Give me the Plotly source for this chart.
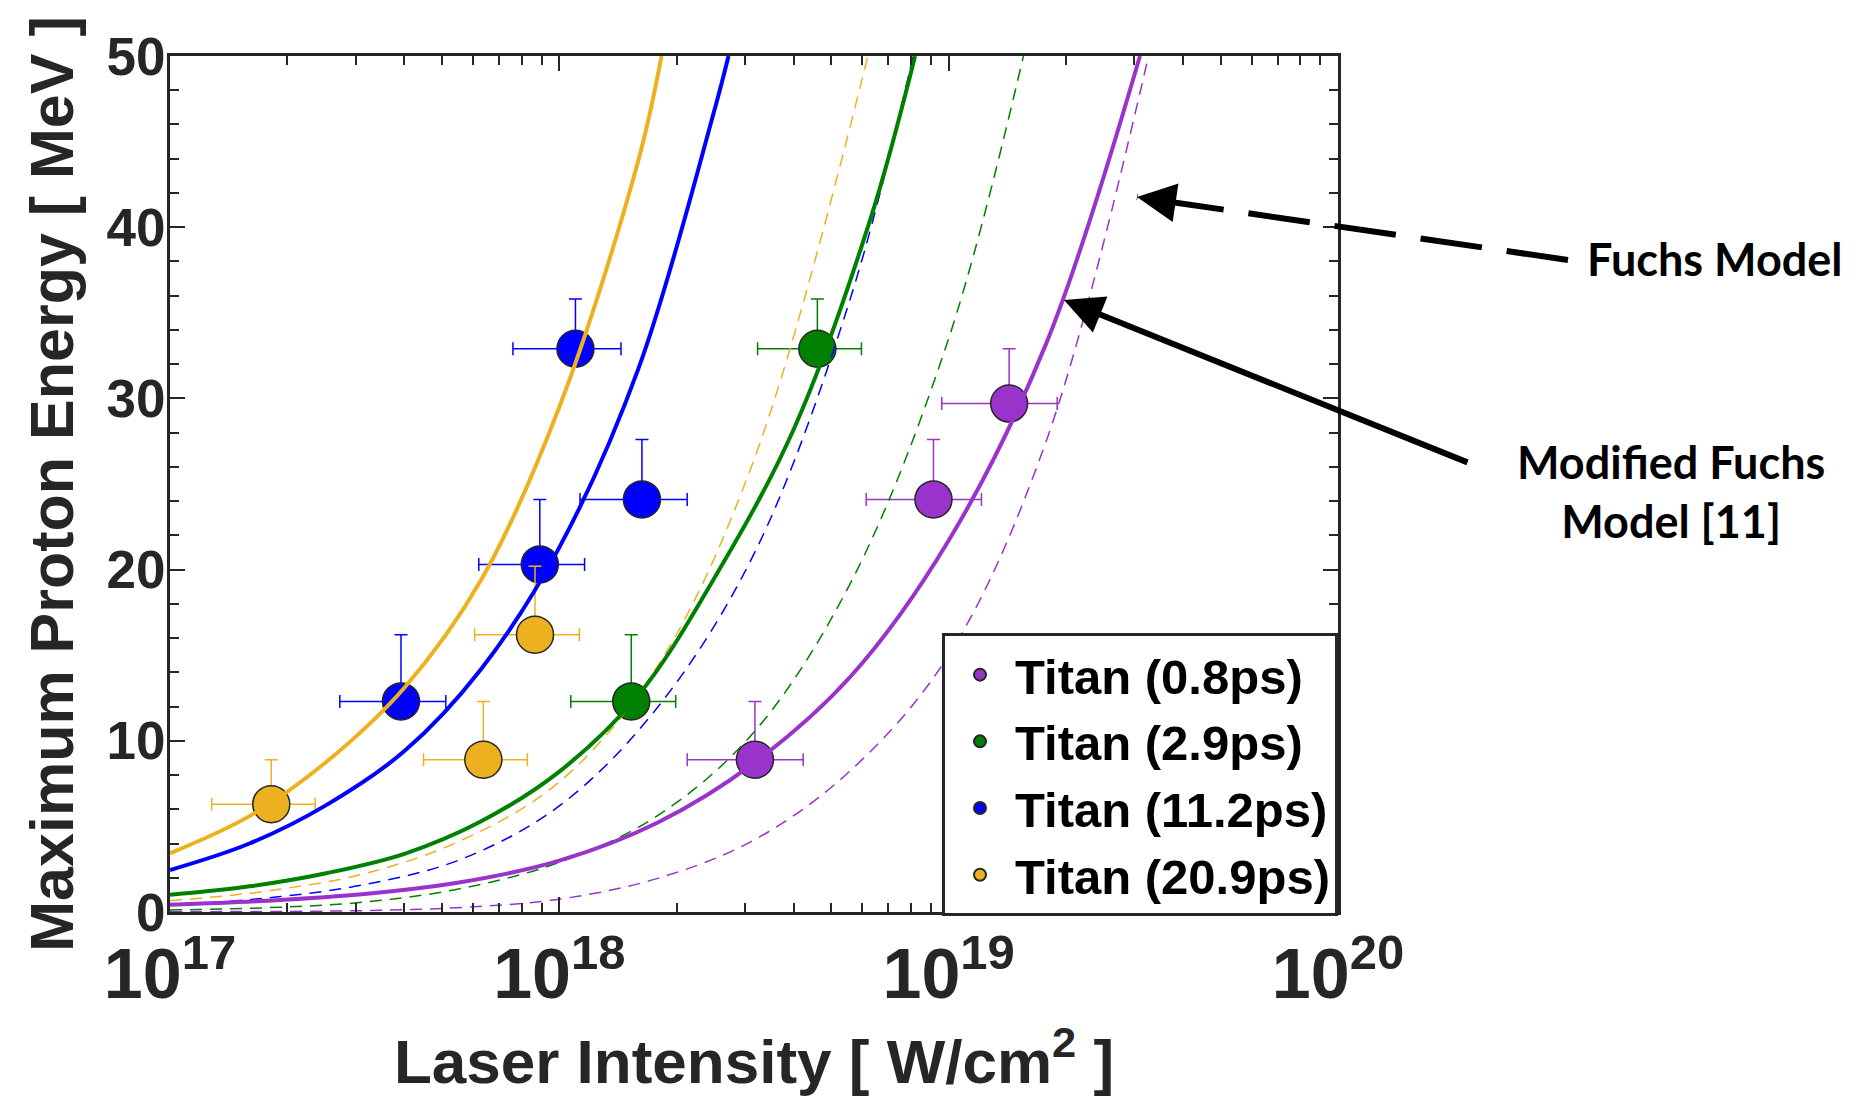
import plotly.graph_objects as go

# ---- Titan shots: laser intensity (W/cm^2) vs. maximum proton energy (MeV) ----
labels = ["Titan (0.8ps)", "Titan (2.9ps)", "Titan (11.2ps)", "Titan (20.9ps)"]
colors = ["#9933CC", "#008000", "#0000FF", "#EDB120"]

i_08 = [3.18e18, 9.14e18, 1.43e19]
e_08 = [8.9, 24.1, 29.7]
ierr_08 = [1.05e18, 3.0e18, 4.7e18]
eerr_08 = [3.4, 3.5, 3.2]

i_29 = [1.53e18, 4.60e18]
e_29 = [12.3, 32.9]
ierr_29 = [4.6e17, 1.37e18]
eerr_29 = [3.9, 2.9]

i_112 = [3.92e17, 8.91e17, 1.10e18, 1.63e18]
e_112 = [12.3, 20.3, 32.9, 24.1]
ierr_112 = [1.19e17, 2.7e17, 3.4e17, 5.0e17]
eerr_112 = [3.9, 3.8, 2.9, 3.5]

i_209 = [1.82e17, 6.38e17, 8.66e17]
e_209 = [6.3, 8.9, 16.2]
ierr_209 = [5.4e16, 1.9e17, 2.6e17]
eerr_209 = [2.6, 3.4, 4.0]

# ---- Modified Fuchs model (solid) ----
mod_08_i = [1e17, 1.78e17, 3.16e17, 5.62e17, 1e18, 1.78e18, 3.16e18, 5.62e18, 1e19, 1.78e19, 3.10e19]
mod_08_e = [0.42, 0.66, 1.05, 1.75, 3.0, 5.2, 8.7, 13.8, 21.7, 33.2, 50]

mod_29_i = [1e17, 1.6e17, 2.5e17, 4e17, 6.3e17, 1e18, 1.6e18, 2.5e18, 4e18, 6.3e18, 8.2e18]
mod_29_e = [1.0, 1.5, 2.25, 3.4, 5.3, 8.2, 12.7, 19.5, 28.2, 40.5, 50]

mod_112_i = [1e17, 1.6e17, 2.5e17, 4e17, 6.3e17, 1e18, 1.6e18, 2.5e18, 2.72e18]
mod_112_e = [2.45, 4.0, 6.2, 9.4, 14.2, 21.3, 31.8, 46.8, 50]

mod_209_i = [1e17, 1.6e17, 2.5e17, 4e17, 6.3e17, 1e18, 1.6e18, 1.83e18]
mod_209_e = [3.43, 5.6, 8.7, 13.1, 19.4, 29.5, 44.0, 50]

# ---- Fuchs model (dashed) ----
fu_08_i = [1e17, 3.16e17, 5.62e17, 1e18, 1.78e18, 3.16e18, 5.62e18, 1e19, 1.78e19, 3.26e19]
fu_08_e = [0.02, 0.08, 0.27, 0.75, 1.95, 4.2, 8.3, 15.0, 27.5, 50]

fu_29_i = [1e17, 1.78e17, 3.16e17, 5.62e17, 1e18, 1.78e18, 3.16e18, 5.62e18, 1e19, 1.556e19]
fu_29_e = [0.12, 0.25, 0.58, 1.38, 2.9, 5.6, 10.5, 19.3, 33.5, 50]

fu_112_i = [1e17, 1.78e17, 3.16e17, 5.62e17, 1e18, 1.78e18, 3.16e18, 5.62e18, 8.1e18]
fu_112_e = [0.4, 0.82, 1.6, 3.1, 6.2, 11.9, 20.9, 36.0, 50]

fu_209_i = [1e17, 1.78e17, 3.16e17, 5.62e17, 1e18, 1.78e18, 3.16e18, 6.2e18]
fu_209_e = [0.65, 1.23, 2.24, 4.2, 7.6, 14.3, 26.4, 50]

shots = [
    (i_08, e_08, ierr_08, eerr_08),
    (i_29, e_29, ierr_29, eerr_29),
    (i_112, e_112, ierr_112, eerr_112),
    (i_209, e_209, ierr_209, eerr_209),
]
modified = [(mod_08_i, mod_08_e), (mod_29_i, mod_29_e), (mod_112_i, mod_112_e), (mod_209_i, mod_209_e)]
fuchs = [(fu_08_i, fu_08_e), (fu_29_i, fu_29_e), (fu_112_i, fu_112_e), (fu_209_i, fu_209_e)]

INK = "#262626"
FONT = "Liberation Sans, Arial, Helvetica, sans-serif"

fig = go.Figure()

# measured points with error bars (drawn first, model curves go on top)
for name, col, (xs, ys, xe, ye) in zip(labels, colors, shots):
    fig.add_trace(go.Scatter(
        x=xs, y=ys, mode="markers", name=name,
        marker=dict(size=37, color=col, line=dict(color=INK, width=1.5)),
        error_x=dict(type="data", array=xe, color=col, thickness=1.5, width=6.5),
        error_y=dict(type="data", symmetric=False, array=ye, arrayminus=[0] * len(ye),
                     color=col, thickness=1.5, width=6.5),
    ))

# Fuchs model curves
for col, (xs, ys) in zip(colors, fuchs):
    fig.add_trace(go.Scatter(
        x=xs, y=ys, mode="lines", showlegend=False, hoverinfo="skip",
        line=dict(color=col, width=1.5, dash="12px,8px", shape="spline", smoothing=1.0),
    ))

# modified Fuchs model curves
for col, (xs, ys) in zip(colors, modified):
    fig.add_trace(go.Scatter(
        x=xs, y=ys, mode="lines", showlegend=False, hoverinfo="skip",
        line=dict(color=col, width=4, shape="spline", smoothing=1.0),
    ))

axis_common = dict(
    showgrid=False, zeroline=False, showline=True, linecolor=INK, linewidth=3,
    mirror="ticks", ticks="inside", ticklen=15, tickwidth=2, tickcolor=INK,
)

fig.update_layout(
    width=1865, height=1101,
    margin=dict(l=170, r=527, t=56, b=189),
    paper_bgcolor="white", plot_bgcolor="white",
    xaxis=dict(
        type="log", range=[17, 20], dtick=1, exponentformat="power",
        minor=dict(ticks="inside", ticklen=9, tickwidth=2, tickcolor=INK, dtick="D1", showgrid=False),
        tickfont=dict(family=FONT, size=56, color=INK, weight="bold"),
        ticklabelstandoff=2,
        title=dict(text="Laser Intensity [ W/cm<sup>2</sup> ]", standoff=28,
                   font=dict(family=FONT, size=62, color=INK, weight="bold")),
        **axis_common,
    ),
    yaxis=dict(
        range=[0, 50], dtick=10,
        minor=dict(ticks="inside", ticklen=9, tickwidth=2, tickcolor=INK, dtick=2, showgrid=False),
        tickfont=dict(family=FONT, size=53, color=INK, weight="bold"),
        ticklabelstandoff=-9,
        title=dict(text="Maximum Proton Energy [ MeV ]", standoff=14,
                   font=dict(family=FONT, size=61, color=INK, weight="bold")),
        **axis_common,
    ),
    legend=dict(
        x=1, xanchor="right", y=-0.005, yanchor="bottom",
        bgcolor="white", bordercolor=INK, borderwidth=3,
        font=dict(family=FONT, size=49, color="black", weight="bold"),
        itemsizing="constant", itemwidth=60, tracegroupgap=0,
    ),
    showlegend=True,
)

# call-outs for the two model families
fig.add_shape(type="line", xref="paper", yref="paper",
              x0=1.1969, y0=0.7617, x1=0.8279, y1=0.8353,
              line=dict(color="black", width=6, dash="62px,25px"))
fig.add_annotation(xref="paper", yref="paper", x=0.8279, y=0.8353, text="",
                   showarrow=True, arrowhead=2, arrowsize=1.3, arrowwidth=6,
                   arrowcolor="black", ax=40, ay=6, standoff=0)
fig.add_annotation(xref="paper", yref="paper", x=0.7654, y=0.7150, text="",
                   showarrow=True, arrowhead=2, arrowsize=1.3, arrowwidth=6,
                   arrowcolor="black", ax=405, ay=163, standoff=0)

CALLOUT = dict(family="Lato, Open Sans, sans-serif", size=45, color="black", weight="bold")
fig.add_annotation(xref="paper", yref="paper", x=1.3224, y=0.7629, text="Fuchs Model",
                   showarrow=False, xanchor="center", yanchor="middle", font=CALLOUT)
fig.add_annotation(xref="paper", yref="paper", x=1.2847, y=0.4918,
                   text="Modified Fuchs<br>Model [11]", align="center",
                   showarrow=False, xanchor="center", yanchor="middle", font=CALLOUT)

# slide number at the bottom edge
fig.add_annotation(xref="paper", yref="paper", x=1.3510, y=-0.2325, text="10",
                   showarrow=False, xanchor="center", yanchor="middle",
                   font=dict(family="Open Sans, sans-serif", size=28, color="#A6A6A6"))

fig.write_html("out.html")
